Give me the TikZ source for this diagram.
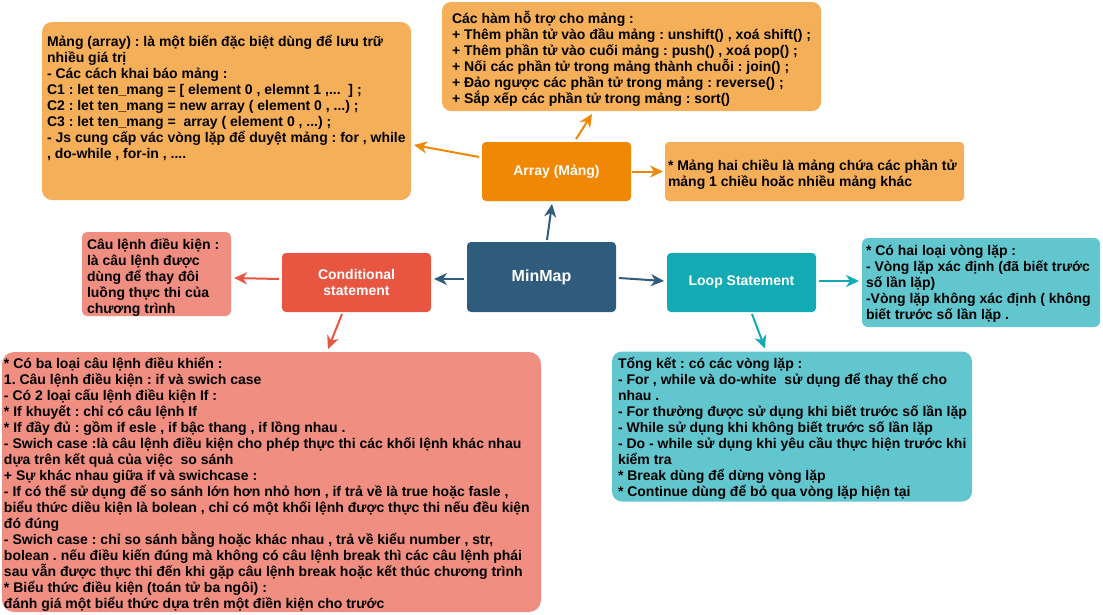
\documentclass[tikz,border=0pt]{standalone}
\usepackage{fontspec}
\setmainfont{Liberation Sans}
\usetikzlibrary{arrows.meta,calc}
\definecolor{lorange}{HTML}{F5AF58}
\definecolor{dorange}{HTML}{F08705}
\definecolor{mmblue}{HTML}{2F5B7C}
\definecolor{cred}{HTML}{E85642}
\definecolor{salmon}{HTML}{F08E81}
\definecolor{lteal}{HTML}{12AAB5}
\definecolor{llteal}{HTML}{62C6CE}
\lineskiplimit=-20pt
\frenchspacing
\tikzset{
  box/.style={rectangle, inner sep=0pt, outer sep=0pt, draw=none},
  txt/.style={anchor=north west, inner sep=0pt, outer sep=0pt, align=left,
    font=\bfseries\fontsize{14}{16}\selectfont},
  ttl/.style={text=white, align=center, font=\bfseries\fontsize{14}{16}\selectfont},
  arr/.style={line width=2pt, -{Stealth[length=13pt,width=12pt,inset=4pt]}},
}
\newcommand{\fs}{\rule{0pt}{15pt}}
\begin{document}
\begin{tikzpicture}[x=1pt,y=-1pt]
\useasboundingbox (0,0) rectangle (1103,614);
% boxes
\node[box, fill=lorange, rounded corners=10pt, minimum width=369pt, minimum height=178pt] (tl) at (226.5,111) {};
\node[box, fill=lorange, rounded corners=9pt, minimum width=379pt, minimum height=109pt] (top) at (631.5,56.5) {};
\node[box, fill=dorange, rounded corners=4pt, minimum width=149pt, minimum height=59pt, ttl] (arr) at (556.5,171.5) {Array (Mảng)};
\node[box, fill=lorange, rounded corners=4pt, minimum width=299pt, minimum height=59pt] (ar) at (814.5,171.5) {};
\node[box, fill=mmblue, rounded corners=4pt, minimum width=149pt, minimum height=70pt, ttl, font=\bfseries\fontsize{16}{18}\selectfont] (mm) at (541.5,277) {MinMap};
\node[box, fill=cred, rounded corners=4pt, minimum width=149pt, minimum height=59pt, ttl] (cond) at (356.5,282.5) {Conditional\\statement};
\node[box, fill=salmon, rounded corners=5pt, minimum width=149pt, minimum height=84pt] (cl) at (156.5,274) {};
\node[box, fill=salmon, rounded corners=12pt, minimum width=539pt, minimum height=260pt] (cb) at (271.5,482) {};
\node[box, fill=lteal, rounded corners=4pt, minimum width=149pt, minimum height=59pt, ttl] (loop) at (741.5,282.5) {Loop Statement};
\node[box, fill=llteal, rounded corners=6pt, minimum width=238pt, minimum height=89pt] (lr) at (981,282.5) {};
\node[box, fill=llteal, rounded corners=10pt, minimum width=360pt, minimum height=150pt] (lb) at (792,426.5) {};
% texts
\node[txt] (tlt) at (47,31) {\fs Mảng (array) : là một biến đặc biệt dùng để lưu trữ\\
nhiều giá trị\\
- Các cách khai báo mảng :\\
C1 : let ten\_mang = [ element 0 , elemnt 1 ,...\ \ ] ;\\
C2 : let ten\_mang = new array ( element 0 , ...) ;\\
C3 : let ten\_mang =\ \ array ( element 0 , ...) ;\\
- Js cung cấp vác vòng lặp để duyệt mảng : for , while\\
, do-while , for-in , ....};
\node[txt] (topt) at (452,8) {\fs Các hàm hỗ trợ cho mảng :\\
+ Thêm phần tử vào đầu mảng : unshift() , xoá shift() ;\\
+ Thêm phần tử vào cuối mảng : push() , xoá pop() ;\\
+ Nối các phần tử trong mảng thành chuỗi : join() ;\\
+ Đảo ngược các phần tử trong mảng : reverse() ;\\
+ Sắp xếp các phần tử trong mảng : sort()};
\node[txt] (art) at (668,155) {\fs * Mảng hai chiều là mảng chứa các phần tử\\
mảng 1 chiều hoăc nhiều mảng khác};
\node[txt] (clt) at (87,234) {\fs Câu lệnh điều kiện :\\
là câu lệnh được\\
dùng để thay đôi\\
luồng thực thi của\\
chương trình};
\node[txt] (cbt) at (4,353) {\fs * Có ba loại câu lệnh điều khiển :\\
1. Câu lệnh điều kiện : if và swich case\\
- Có 2 loại cấu lệnh điều kiện If :\\
* If khuyết : chỉ có câu lệnh If\\
* If đầy đủ : gồm if esle , if bậc thang , if lồng nhau .\\
- Swich case :là câu lệnh điều kiện cho phép thực thi các khối lệnh khác nhau\\
dựa trên kết quả của việc\ \ so sánh\\
+ Sự khác nhau giữa if và swichcase :\\
- If có thể sử dụng để so sánh lớn hơn nhỏ hơn , if trả về là true hoặc fasle ,\\
biểu thức diều kiện là bolean , chỉ có một khối lệnh được thực thi nếu đều kiện\\
đó đúng\\
- Swich case : chỉ so sánh bằng hoặc khác nhau , trả về kiểu number , str,\\
bolean . nếu điều kiến đúng mà không có câu lệnh break thì các câu lệnh phái\\
sau vẫn được thực thi đến khi gặp câu lệnh break hoặc kết thúc chương trình\\
* Biểu thức điều kiện (toán tử ba ngôi) :\\
đánh giá một biểu thức dựa trên một điền kiện cho trước};
\node[txt] (lrt) at (866,240) {\fs * Có hai loại vòng lặp :\\
- Vòng lặp xác định (đã biết trước\\
số lần lặp)\\
-Vòng lặp không xác định ( không\\
biết trước số lần lặp .};
\node[txt] (lbt) at (618,353) {\fs Tổng kết : có các vòng lặp :\\
- For , while và do-white\ \ sử dụng để thay thế cho\\
nhau .\\
- For thường được sử dụng khi biết trước số lần lặp\\
- While sử dụng khi không biết trước số lần lặp\\
- Do - while sử dụng khi yêu cầu thực hiện trước khi\\
kiểm tra\\
* Break dùng để dừng vòng lặp\\
* Continue dùng để bỏ qua vòng lặp hiện tại};
% arrows
\draw[arr, dorange] ($(arr.west)+(-3,-14.5)$) -- ($(tl.east)+(3,34)$);
\draw[arr, dorange] ($(arr.north)+(19.5,-3)$) -- ($(top.south)+(-39.5,3)$);
\draw[arr, dorange] ($(arr.east)+(1,0)$) -- ($(ar.west)+(-2,0)$);
\draw[arr, mmblue] ($(mm.north)+(5.5,-2)$) -- ($(arr.south)+(-4.5,3)$);
\draw[arr, mmblue] ($(mm.west)+(-3,2)$) -- ($(cond.east)+(3,-3.5)$);
\draw[arr, mmblue] ($(mm.east)+(3,1)$) -- ($(loop.west)+(-3,-1.5)$);
\draw[arr, cred] ($(cond.west)+(-3,-3.5)$) -- ($(cl.east)+(3,4)$);
\draw[arr, cred] ($(cond.south)+(-14.5,2)$) -- ($(cb.north)+(56.5,-3)$);
\draw[arr, lteal] ($(loop.east)+(3,-1.5)$) -- ($(lr.west)+(-3,-1.5)$);
\draw[arr, lteal] ($(loop.south)+(10.5,2)$) -- ($(lb.north)+(-27,-3)$);
\end{tikzpicture}
\end{document}
